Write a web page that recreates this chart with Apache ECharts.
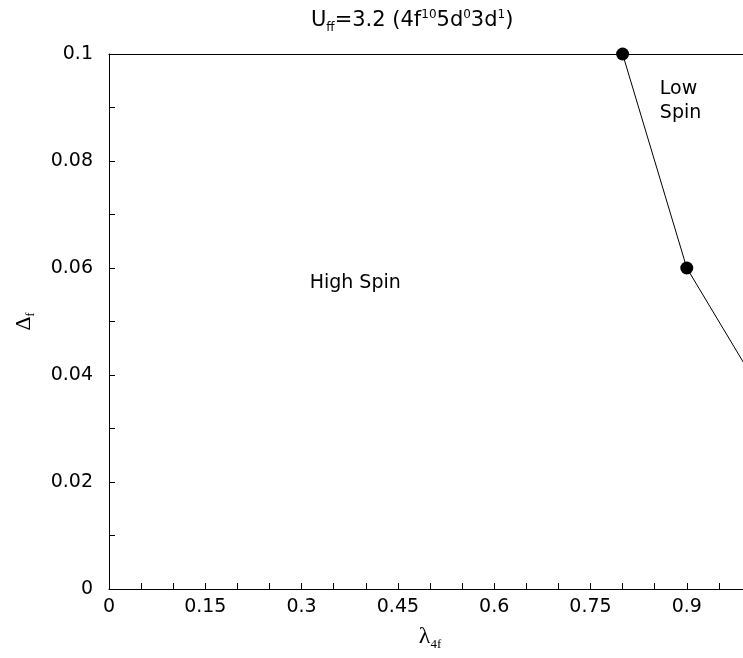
<!DOCTYPE html>
<html>
<head>
<meta charset="utf-8">
<script src="https://cdn.jsdelivr.net/npm/echarts@6/dist/echarts.min.js"></script>
<style>
html,body{margin:0;padding:0;background:#fff;overflow:hidden;width:743px;height:658px;}
#chart{width:751px;height:658px;}
</style>
</head>
<body>
<div id="chart"></div>
<script>
// Phase boundary points (lambda_4f, Delta_f)
const boundaryX = [0.8, 0.9, 1.0];
const boundaryY = [0.1, 0.06, 0.04];
const showDot = [true, true, false];

// Region annotations
const annotText = ['High Spin', 'Low\nSpin'];
const annotX = [0.3835, 0.858];
const annotY = [0.0572, 0.0912];
const annotAlign = ['center', 'left'];

// Axis ranges / ticks
const xMin = 0, xMax = 1.0, xTick = 0.05, xLabelStep = 0.15;
const yMin = 0, yMax = 0.1, yTick = 0.01, yLabelStep = 0.02;

const chart = echarts.init(document.getElementById('chart'), null, {renderer: 'canvas'});

const sans = 'DejaVu Sans, Verdana, sans-serif';
const serif = 'Liberation Serif, Times New Roman, serif';

function fmt(v) { return String(parseFloat(v.toFixed(3))); }

const option = {
  backgroundColor: '#fff',
  animation: false,
  title: {
    text: '{b|U}{sub|ff}{b|=3.2 (4f}{sup|10}{b|5d}{sup|0}{b|3d}{sup|1}{b|)}',
    left: 306,
    top: 2,
    textStyle: {
      fontWeight: 'normal',
      rich: {
        b: {fontFamily: sans, fontSize: 21, fontWeight: 'normal', color: '#000', lineHeight: 28, verticalAlign: 'middle'},
        sub: {fontFamily: sans, fontSize: 12, fontWeight: 'normal', color: '#000', lineHeight: 28, verticalAlign: 'bottom', padding: [0,0,1,0]},
        sup: {fontFamily: sans, fontSize: 12, fontWeight: 'normal', color: '#000', lineHeight: 28, verticalAlign: 'top', padding: [2,0,0,0]}
      }
    }
  },
  grid: {left: 109, right: 0, top: 54, bottom: 69, show: false},
  xAxis: [{
    type: 'value', min: xMin, max: xMax, interval: xTick,
    name: '{l|λ}{s|4f}',
    nameLocation: 'middle', nameGap: 34,
    nameTextStyle: {
      rich: {
        l: {fontFamily: serif, fontSize: 24, color: '#000', lineHeight: 28, verticalAlign: 'middle'},
        s: {fontFamily: serif, fontSize: 13, color: '#000', lineHeight: 28, verticalAlign: 'bottom'}
      }
    },
    axisLine: {show: true, onZero: false, lineStyle: {color: '#000', width: 1}},
    axisTick: {show: true, inside: true, length: 6, lineStyle: {color: '#000'}},
    splitLine: {show: false},
    axisLabel: {
      color: '#000', fontFamily: sans, fontSize: 19, margin: 9,
      showMaxLabel: false,
      formatter: function (v) {
        const k = Math.round(v / xTick);
        const step = Math.round(xLabelStep / xTick);
        return (k % step === 0) ? fmt(v) : '';
      }
    }
  }, {
    type: 'value', position: 'top', min: xMin, max: xMax,
    axisLine: {show: true, onZero: false, lineStyle: {color: '#000', width: 1}},
    axisTick: {show: false}, axisLabel: {show: false}, splitLine: {show: false}
  }],
  yAxis: {
    type: 'value', min: yMin, max: yMax, interval: yTick,
    name: '{l|Δ}{s|f}',
    nameLocation: 'middle', nameGap: 72,
    nameTextStyle: {
      rich: {
        l: {fontFamily: serif, fontSize: 22, color: '#000', lineHeight: 26, verticalAlign: 'middle'},
        s: {fontFamily: serif, fontSize: 12, color: '#000', lineHeight: 26, verticalAlign: 'bottom'}
      }
    },
    axisLine: {show: true, onZero: false, lineStyle: {color: '#000', width: 1}},
    axisTick: {show: true, inside: true, length: 6, lineStyle: {color: '#000'}},
    splitLine: {show: false},
    axisLabel: {
      color: '#000', fontFamily: sans, fontSize: 19, margin: 16,
      formatter: function (v) {
        const k = Math.round(v / yTick);
        const step = Math.round(yLabelStep / yTick);
        return (k % step === 0) ? fmt(v) : '';
      }
    }
  },
  series: [
    {
      type: 'line',
      data: boundaryX.map((x, i) => ({value: [x, boundaryY[i]], symbol: showDot[i] ? 'circle' : 'none'})),
      symbolSize: 13,
      showAllSymbol: true,
      itemStyle: {color: '#000'},
      lineStyle: {color: '#000', width: 1},
      clip: true,
      z: 5
    },
    {
      type: 'scatter',
      symbolSize: 0,
      itemStyle: {color: '#000'},
      label: {
        show: true, position: 'inside',
        fontFamily: sans, fontSize: 19, color: '#000', lineHeight: 24,
        textBorderWidth: 0, opacity: 1,
        formatter: function (p) { return annotText[p.dataIndex]; }
      },
      data: annotX.map((x, i) => ({
        value: [x, annotY[i]],
        label: {align: annotAlign[i], verticalAlign: 'middle', color: '#000'}
      })),
      silent: true
    }
  ]
};
chart.setOption(option);
</script>
</body>
</html>
